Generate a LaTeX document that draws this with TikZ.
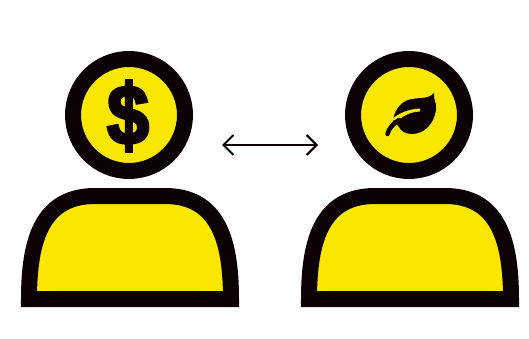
\documentclass[tikz,border=0pt]{standalone}
\usepackage{fontspec}
\usepackage{tikz}
\usetikzlibrary{arrows.meta}
\newfontfamily\dollarfont[FakeBold=3.5]{Liberation Sans Bold}
\definecolor{FigYellow}{RGB}{249,231,0}
\definecolor{FigBlack}{RGB}{12,2,4}
\begin{document}
\begin{tikzpicture}[
  x=1pt, y=-1pt,
  >={Straight Barb[length=10pt,width=20pt]},
  headring/.style={circle, draw=FigBlack, fill=FigYellow, line width=16pt, minimum size=112pt, inner sep=0pt},
  bodyline/.style={draw=FigBlack, fill=FigYellow, line width=16pt, miter limit=10},
  swaparrow/.style={<->, draw=FigBlack, line width=2pt},
]
\useasboundingbox (0,0) rectangle (529,339);
% left person
\node[headring] (moneyhead) at (129,115) {};
\path[bodyline] (29,299) .. controls (29,240) and (42,196) .. (95,196) -- (165,196) .. controls (218,196) and (231,240) .. (231,299) -- cycle;
\node[text=FigBlack, font=\dollarfont\fontsize{84pt}{84pt}\selectfont, inner sep=0pt, xscale=0.9] (dollar) at (128,116) {\$};
\fill[FigBlack] (125,79) rectangle (133,153);
% right person
\node[headring] (leafhead) at (409,115) {};
\path[bodyline] (309,299) .. controls (309,240) and (322,196) .. (375,196) -- (445,196) .. controls (498,196) and (511,240) .. (511,299) -- cycle;
% leaf
\fill[FigBlack] (434,93) .. controls (433,99) and (437,103) .. (436,110) .. controls (434,124) and (424,134) .. (412,134) .. controls (405,134) and (401,131) .. (399,127) -- (393,120) .. controls (395,108) and (403,100) .. (412,99) .. controls (420,97.5) and (429,99) .. (434,93) -- cycle;
\fill[FigYellow] (392,119) .. controls (399,113) and (409,109) .. (420,108.5) -- (420,111.5) .. controls (410,112) and (402,116) .. (397,122) -- cycle;
\draw[FigBlack, line width=4.5pt, line cap=round] (387.5,134) .. controls (389,128) and (393,124) .. (399,120);
% arrow
\coordinate (arrowleft) at (222,145);
\coordinate (arrowright) at (318,145);
\draw[swaparrow] (arrowleft) -- (arrowright);
\end{tikzpicture}
\end{document}
